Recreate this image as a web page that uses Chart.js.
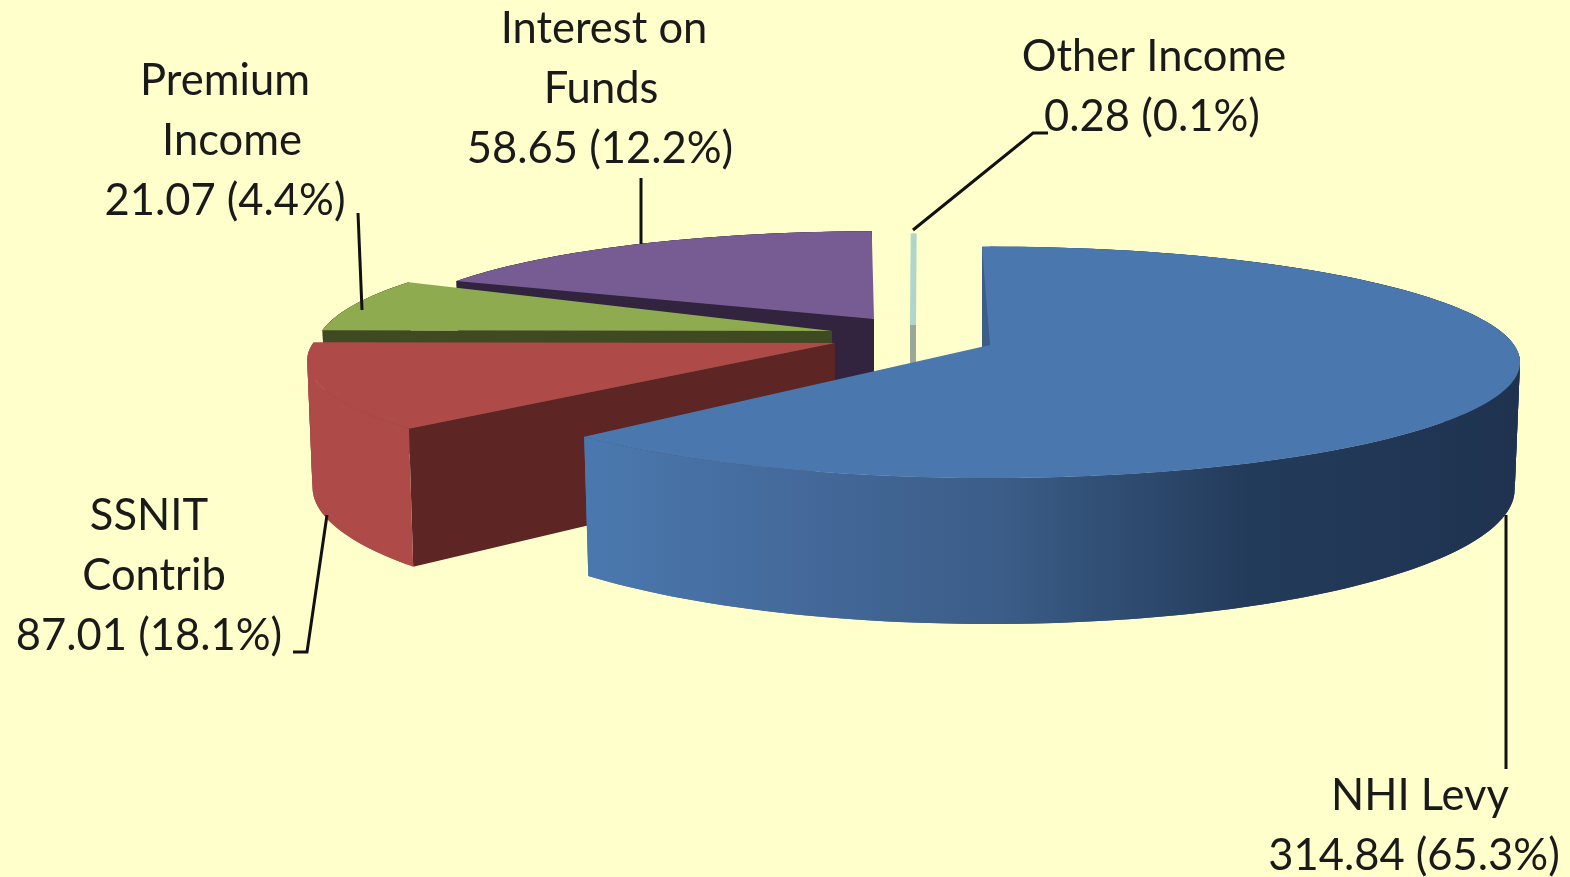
<!DOCTYPE html>
<html>
<head>
<meta charset="utf-8">
<title>Income sources</title>
<script src="https://cdn.jsdelivr.net/npm/chart.js@4/dist/chart.umd.min.js"></script>
<style>
html,body{margin:0;padding:0;background:#ffffcc;overflow:hidden;}
#wrap{width:1570px;height:877px;}
</style>
</head>
<body>
<div id="wrap"><canvas id="incomeChart" width="1570" height="877"></canvas></div>
<script>
// chart data
const categories=['NHI Levy','SSNIT Contrib','Premium Income','Interest on Funds','Other Income'];
const values=[314.84,87.01,21.07,58.65,0.28];
const labelLines=[['NHI Levy'],['SSNIT','Contrib'],['Premium','Income'],['Interest on','Funds'],['Other Income']];

// look of the fake 3D pie
const topColors=['#4a78ae','#ae4b48','#8fab50','#775c93','#b0d6cc'];
const edgeColors=['#1f3350','#5d2524','#3f4a22','#32243f','#9aa898'];
const rimColors=[null,'#ae4b48','#3f4a22','#32243f','#9aa898'];

// how far each slice is pulled out of the chart centre, its squash, and small angle nudges
const sliceShape=[
{dx:205,dy:-93.5,sx:1.195,sy:0.258,add0:0,add1:-1.5},
{dx:50,dy:-95.5,sx:1.19,sy:0.258,add0:2,add1:0},
{dx:47,dy:-107.5,sx:1.163,sy:0.258,add0:0,add1:2},
{dx:89,dy:-119.5,sx:1.1,sy:0.23,add0:-2,add1:0},
{dx:128,dy:-113.5,sx:1.095,sy:0.24,add0:0.4,add1:0}
];
const perspective=0.15;
const depth=124;
const bottomShrink=0.99;

// pie angle -> angle on the tilted disc
const angleWarp=[[0,-1],[235,225],[300,270],[316,295.5],[360,360]];

const blueSideStops=[[590,'#4a78ae'],[800,'#44699a'],[1000,'#3b5d88'],[1250,'#233b5a'],[1510,'#1f3350']];

// text and leader lines
const labelSpots=[
{x:[1420,1414],y:796},
{x:[149,154,149],y:516},
{x:[225,232,225],y:81},
{x:[604,601,600],y:29},
{x:[1154,1152],y:57}
];
const leaders=[
[[1506,515],[1506,769]],
[[327,515],[307,652],[293,652]],
[[358,213],[362,310]],
[[641,178],[641,244]],
[[1048,133],[1033,133],[913,230]]
];
const lineGap=60;
const labelFont='43.5px Lato';

function warpAngle(deg){

for(let i=1;i<angleWarp.length;i++){

const a=angleWarp[i-1];
const b=angleWarp[i];

if(deg<=b[0]){
return a[1]+(deg-a[0])*(b[1]-a[1])/(b[0]-a[0]);
}

}

return deg;

}

function project(arc,shape,deg,r,low){

const rad=deg*Math.PI/180;
const u=r*Math.sin(rad);
const v=-r*Math.cos(rad);
const den=1-perspective*v;
const cx=arc.x+shape.dx;
const cy=arc.y+shape.dy;

let x=cx+arc.outerRadius*shape.sx*u/den;
let y=cy+arc.outerRadius*shape.sy*v/den;

if(low){
x=cx+(x-cx)*bottomShrink;
y+=depth/den;
}

return[x,y];

}

function fillPoly(ctx,pts,color){

ctx.beginPath();
pts.forEach((p,i)=>{
if(i===0)ctx.moveTo(p[0],p[1]);
else ctx.lineTo(p[0],p[1]);
});
ctx.closePath();
ctx.fillStyle=color;
ctx.fill();

}

function rimPoints(arc,shape,a0,a1,low){

const pts=[];
const steps=Math.max(2,Math.ceil(a1-a0));

for(let i=0;i<=steps;i++){
pts.push(project(arc,shape,a0+(a1-a0)*i/steps,1,low));
}

return pts;

}

function sliceAngles(arc,shape){

const a0=warpAngle((arc.startAngle+Math.PI/2)*180/Math.PI)+shape.add0;
const a1=warpAngle((arc.endAngle+Math.PI/2)*180/Math.PI)+shape.add1;

return[a0,a1];

}

const pie3d={
id:'pie3d',
beforeDatasetsDraw(chart){

const ctx=chart.ctx;
const arcs=chart.getDatasetMeta(0).data;

const first=blueSideStops[0][0];
const last=blueSideStops[blueSideStops.length-1][0];
const side=ctx.createLinearGradient(first,0,last,0);
blueSideStops.forEach(s=>{
side.addColorStop((s[0]-first)/(last-first),s[1]);
});

// back to front, the big slice last
for(let i=arcs.length-1;i>=0;i--){

const arc=arcs[i];
const shape=sliceShape[i];
const [a0,a1]=sliceAngles(arc,shape);
const apex=project(arc,shape,a0,0,false);
const apexLow=project(arc,shape,a0,0,true);

// cut face at the start of the slice
fillPoly(ctx,[apex,project(arc,shape,a0,1,false),project(arc,shape,a0,1,true),apexLow],edgeColors[i]);

// outer wall, small overlapping quads so the turn at the sides has no hole
const upper=rimPoints(arc,shape,a0,a1,false);
const lower=rimPoints(arc,shape,a0,a1,true);
for(let n=0;n<upper.length-1;n++){
const m=Math.min(n+2,upper.length-1);
fillPoly(ctx,[upper[n],upper[m],lower[m],lower[n]],rimColors[i]||side);
}

// the tiny slice is thinner than a pixel, so give it a stroke
if(a1-a0<1){
ctx.lineWidth=6;
ctx.strokeStyle=edgeColors[i];
ctx.beginPath();
ctx.moveTo(apex[0],apex[1]);
ctx.lineTo(apexLow[0],apexLow[1]);
ctx.stroke();
ctx.strokeStyle=topColors[i];
ctx.beginPath();
ctx.moveTo(apex[0],apex[1]);
ctx.lineTo(upper[0][0],upper[0][1]);
ctx.stroke();
}

// top
fillPoly(ctx,[apex].concat(upper),topColors[i]);

}

return false;

},
afterDraw(chart){

const ctx=chart.ctx;
const total=values.reduce((a,b)=>a+b,0);

ctx.save();

ctx.strokeStyle='#111';
ctx.lineWidth=3;
ctx.lineJoin='miter';

leaders.forEach(line=>{
ctx.beginPath();
line.forEach((p,i)=>{
if(i===0)ctx.moveTo(p[0],p[1]);
else ctx.lineTo(p[0],p[1]);
});
ctx.stroke();
});

ctx.font=labelFont;
ctx.fillStyle='#1a1a1a';
ctx.textAlign='center';
ctx.textBaseline='middle';

values.forEach((val,i)=>{

const lines=labelLines[i].concat(val.toFixed(2)+' ('+(val/total*100).toFixed(1)+'%)');
const spot=labelSpots[i];

lines.forEach((txt,n)=>{
ctx.fillText(txt,spot.x[n],spot.y+n*lineGap);
});

});

ctx.restore();

}
};

new Chart(document.getElementById('incomeChart'),{
type:'pie',
data:{
labels:categories,
datasets:[{
data:values,
backgroundColor:topColors,
borderWidth:0
}]
},
options:{
responsive:false,
animation:false,
layout:{padding:0},
plugins:{legend:{display:false},tooltip:{enabled:false}}
},
plugins:[pie3d]
});
</script>
</body>
</html>
